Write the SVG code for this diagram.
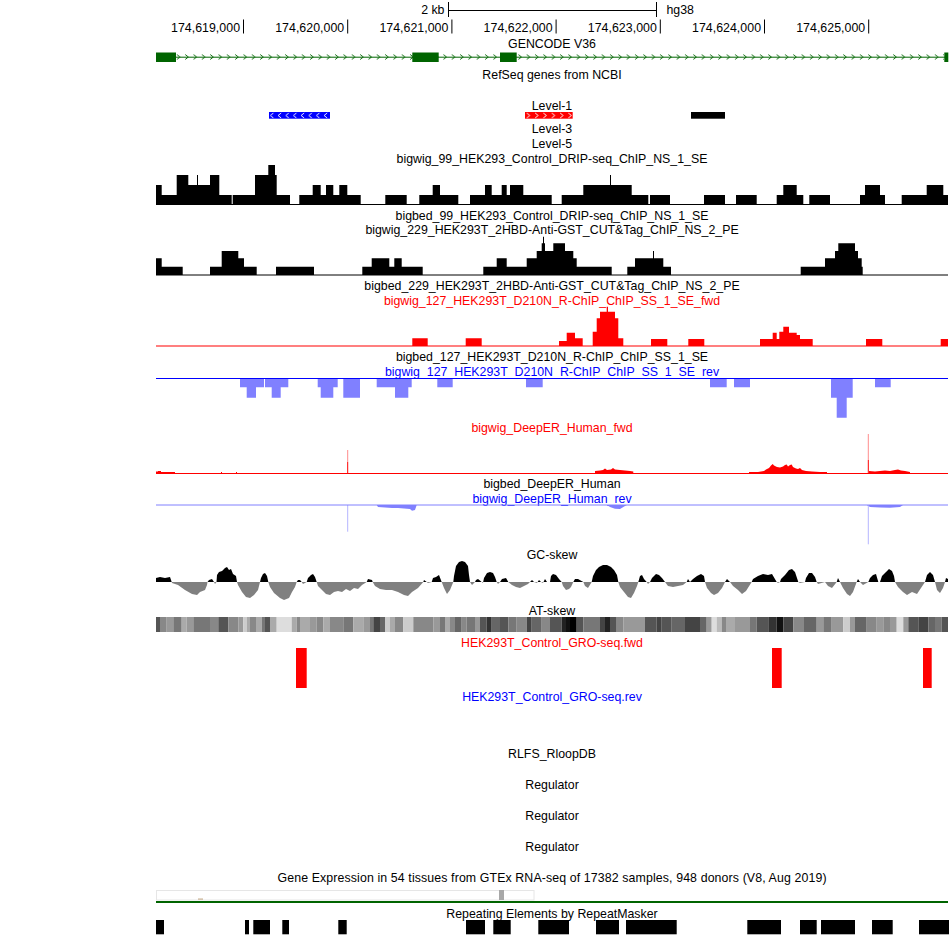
<svg xmlns="http://www.w3.org/2000/svg" width="950" height="936" viewBox="0 0 950 936">
<style>
text{font-family:"Liberation Sans",Arial,sans-serif;font-size:12.35px;fill:#000}
.c{text-anchor:middle}
.e{text-anchor:end}
.r{fill:#f00}
.b{fill:#00f}
.tick{stroke:#000;stroke-width:1}
.rs{fill:#000}
</style>
<defs>
<pattern id="chevG" patternUnits="userSpaceOnUse" x="0" y="0" width="8.33" height="936"><path d="M2,54.5L5,57L2,59.5" fill="none" stroke="#006400" stroke-width="0.9"/></pattern>
<pattern id="chevR" patternUnits="userSpaceOnUse" x="0" y="0" width="8.33" height="936"><path d="M2,113L5,115.5L2,118" fill="none" stroke="#fff" stroke-width="0.9"/></pattern>
<pattern id="chevB" patternUnits="userSpaceOnUse" x="0" y="0" width="7.67" height="936"><path d="M5,113L2,115.5L5,118" fill="none" stroke="#fff" stroke-width="0.9"/></pattern>
<clipPath id="above"><rect x="0" y="0" width="950" height="582"/></clipPath>
<clipPath id="below"><rect x="0" y="582" width="950" height="354"/></clipPath>
<path id="gc" d="M156,582 L156,578 160,577 165,578 170,577 171.7,582 172,583 178,585 185,590 192,594 197,595 200,592 205,590 207,585 207.5,582 209,580 212,579 214,582 215,584 216.5,582 217,575 219,572 222,571 225,568 227,567 229,570 231,569 233,574 236,576 237,582 238,585 242,592 246,597 250,598 254,595 258,590 260,582 261,578 263,574 265,573 267,576 268.3,582 270,587 274,593 280,598 284,600 289,598 292,592 295,587 296.7,582 298,580 300,580 301.7,582 303,584 306.7,582 308,578 311,575 313,574 315,577 316.7,582 318,586 322,590 326,594 330,595 334,592 338,591 342,592 346,589 350,591 354,588 358,589 362,585 366.7,582 368,579 372,580 372.7,582 375,586 380,589 386,590 392,590 398,592 404,595 408,596 412,592 418,588 423.3,582 424,580 426.7,582 428,583 431.7,582 433,578 436,577 439,575 441.7,582 444,588 447,594 450,590 453.3,582 454,576 456,566 459,562 462,561 465,562 468,566 469,575 470,582 472,585 475,582 476,580 478,579 481.7,582 483,583 484,578 487,573 490,572 493,573 495,577 496.7,582 498,584 500,582 502,579 506,578 508.3,582 512,585 516,587 520,588 524,586 528,584 530,582 532,580 534,582 537,583 539,580 541,582 543,583 545,579 547,582 550,582 551,576 553,574 556,575 559,579 561.7,582 563,586 566,590 569,589 571,587 573.3,582 575,579 578,579 583.3,582 585,586 588,588 591.7,582 593,576 596,570 599,567 603,565 607,565 611,567 614,570 617,575 618.3,582 620,587 624,592 628,597 631,598 634,593 637,586 638.3,582 640,576 642,575 644,579 646.7,582 648,584 650,582 652,578 656,574 659,575 662,578 665,582 668,586 673,587 678,586 683,585 686.7,582 688,579 690,582 693,579 697,576 701,574 704,576 705,582 707,588 711,593 714,595 718,593 722,588 725,582 727,579 730,582 733,586 738,590 742,594 746,591 751.7,582 753,579 758,576 763,574 768,575 772,574 776.7,582 778,583 780,582 781,579 785,575 789,570 792,569 795,572 798.3,582 800,583 805,582 806,578 809,573 812,573 815,577 816.7,582 818,584 825,582 828,586 832,588 836.7,582 838,578 840,582 843,588 847,594 850,596 853,592 856.7,582 858,579 860,582 863,585 868.3,582 870,578 873,575 876,574 878.3,582 880,582 882,576 886,572 889,569 892,571 894,576 895,582 898,587 903,592 907,595 912,592 917,594 921,588 925,582 927,575 930,572 933,575 935,582 937,590 940,593 943,588 945,582 946,578 948,579 948,582 Z"/>
</defs>
<rect width="950" height="936" fill="#fff"/>

<g id="ruler">
<text class="e" x="444.5" y="14">2 kb</text>
<line class="tick" x1="448" y1="10.5" x2="656" y2="10.5"/>
<line class="tick" x1="448.5" y1="2" x2="448.5" y2="17"/>
<line class="tick" x1="656.5" y1="2" x2="656.5" y2="17"/>
<text x="666.5" y="14">hg38</text>
<g>
<line class="tick" x1="243.5" y1="19.5" x2="243.5" y2="33.5"/>
<line class="tick" x1="347.7" y1="19.5" x2="347.7" y2="33.5"/>
<line class="tick" x1="451.9" y1="19.5" x2="451.9" y2="33.5"/>
<line class="tick" x1="556.1" y1="19.5" x2="556.1" y2="33.5"/>
<line class="tick" x1="660.3" y1="19.5" x2="660.3" y2="33.5"/>
<line class="tick" x1="764.5" y1="19.5" x2="764.5" y2="33.5"/>
<line class="tick" x1="868.7" y1="19.5" x2="868.7" y2="33.5"/>
</g>
<text class="e" x="240" y="31.5" textLength="69">174,619,000</text>
<text class="e" x="344.2" y="31.5" textLength="69">174,620,000</text>
<text class="e" x="448.4" y="31.5" textLength="69">174,621,000</text>
<text class="e" x="552.6" y="31.5" textLength="69">174,622,000</text>
<text class="e" x="656.8" y="31.5" textLength="69">174,623,000</text>
<text class="e" x="761" y="31.5" textLength="69">174,624,000</text>
<text class="e" x="865.2" y="31.5" textLength="69">174,625,000</text>
</g>

<g id="gencode">
<text class="c" x="552" y="48.3">GENCODE V36</text>
<line x1="156" y1="57.2" x2="948" y2="57.2" stroke="#006400" stroke-width="1"/>
<rect x="176" y="53" width="768" height="8.5" fill="url(#chevG)"/>
<rect x="156" y="52.5" width="20" height="9.5" fill="#006400"/>
<rect x="412.3" y="52.5" width="26.4" height="9.5" fill="#006400"/>
<rect x="500" y="52.5" width="16.7" height="9.5" fill="#006400"/>
<rect x="944.3" y="52.5" width="4" height="9.5" fill="#006400"/>
</g>

<g id="refseq">
<text class="c" x="552" y="79">RefSeq genes from NCBI</text>
</g>

<g id="levels">
<text class="c" x="552" y="110">Level-1</text>
<rect x="269" y="112" width="61" height="6.7" fill="#00f"/>
<rect x="269" y="112" width="61" height="6.7" fill="url(#chevB)"/>
<rect x="525" y="112" width="47.7" height="6.7" fill="#f00"/>
<rect x="525" y="112" width="47.7" height="6.7" fill="url(#chevR)"/>
<rect x="691" y="112" width="34" height="6.7" fill="#000"/>
<text class="c" x="552" y="132.5">Level-3</text>
<text class="c" x="552" y="147.5">Level-5</text>
</g>

<g id="track-drip99">
<text class="c" x="552" y="163">bigwig_99_HEK293_Control_DRIP-seq_ChIP_NS_1_SE</text>
<path fill="#000" d="M156,204V185H161.7V195H176.7V175H188.3V185H197V175H198V185H210V175H219.3V195H231.7V204Z
M232.7,204V195H255V175H268.3V165H275V175H276.7V195H290V204Z
M299.3,204V195H312.7V185H320.7V195H326V185H333.3V195H339.3V185H347.3V195H360.7V204Z
M385.3,204V195H406.7V204Z
M419.3,204V195H432.7V185H440V195H458.3V204Z
M470,204V195H485V185H491.7V195H501.7V185H506.7V195H510V185H523.3V195H551.7V204Z
M561.7,204V195H583.3V185H610V175H611V185H631.7V195H648.3V204Z
M650,204V195H670V204Z
M704,204V195H725V204Z
M736,204V195H756.7V204Z
M776.7,204V195H783.3V185H796.7V195H803.3V204Z
M809.3,204V195H830V204Z
M860,204V195H865V185H880V195H885V204Z
M901.7,204V195H926.7V185H943.3V195H948V204Z"/>
<line x1="156" y1="204.5" x2="948" y2="204.5" stroke="#000" stroke-width="1"/>
<text class="c" x="552" y="220">bigbed_99_HEK293_Control_DRIP-seq_ChIP_NS_1_SE</text>
</g>

<g id="track-cut229">
<text class="c" x="552" y="234.3">bigwig_229_HEK293T_2HBD-Anti-GST_CUT&amp;Tag_ChIP_NS_2_PE</text>
<path fill="#000" d="M156,275V258.3H161.7V266.7H182.7V275Z
M210,275V266.7H221.7V251H238.3V258.3H244V266.7H256.7V275Z
M276,275V266.7H314V275Z
M362.3,275V266.7H371.7V258.3H389.3V266.7H394.3V258.3H401.7V266.7H422.7V275Z
M483.3,275V266.7H496.7V258.3H506.7V266.7H526.7V258.3H536.7V251H541.7V243.3H543V236.7H544V243.3H545V251H553.3V243.3H565V251H573.3V258.3H576.7V266.7H611.7V275Z
M627.3,275V266.7H635V258.3H653V251H654V258.3H663.3V266.7H671V275Z
M800.7,275V266.7H825V258.3H835V251H838.3V243.3H855V251H858V258.3H861.7V266.7H862.7V275Z"/>
<line x1="156" y1="275" x2="948" y2="275" stroke="#000" stroke-width="1"/>
<text class="c" x="552" y="290">bigbed_229_HEK293T_2HBD-Anti-GST_CUT&amp;Tag_ChIP_NS_2_PE</text>
</g>

<g id="track-rchip-fwd">
<text class="c r" x="552" y="305">bigwig_127_HEK293T_D210N_R-ChIP_ChIP_SS_1_SE_fwd</text>
<path fill="#f00" d="M412.3,346V338.3H427.7V346Z
M465.7,346V338.3H481.7V346Z
M559,346V341H566.7V332.7H575V338.3H582.7V346Z
M592.7,346V331.7H596.7V318.3H600V311.7H606.7V306.7H608V311.7H615V318.3H618.3V338.3H623.3V346Z
M651,346V339H667.3V346Z
M688.3,346V339H704.3V346Z
M760,346V339H772.7V332.7H776.7V339H779.3V331.7H783.3V326.7H789V332.7H796.7V335H800V339H812.7V346Z
M866,346V339H882.3V346Z
M940.7,346V339H948V346Z"/>
<line x1="156" y1="346" x2="948" y2="346" stroke="#f00" stroke-width="1.2"/>
<text class="c" x="552" y="360.7">bigbed_127_HEK293T_D210N_R-ChIP_ChIP_SS_1_SE</text>
</g>

<g id="track-rchip-rev">
<text class="c b" x="552" y="376">bigwig_127_HEK293T_D210N_R-ChIP_ChIP_SS_1_SE_rev</text>
<path fill="#8080ff" d="M240,379V387.3H246.7V397.7H256V387.3H264V379Z
M265,379V387.3H271.7V397.7H280.7V387.3H288.3V379Z
M317.7,379V387.3H320.7V397.7H333.3V387.3H337.7V379Z
M343.3,379V397.7H360V379Z
M376.7,379V387.3H395V397.7H408.3V387.3H411.7V379Z
M437.3,379V387.3H452.7V379Z
M526,379V387.3H542.7V379Z
M710,379V387.3H726.7V379Z
M734,379V387.3H750V379Z
M831,379V397.7H836.7V417.7H846.7V397.7H852.7V379Z
M875,379V387.3H890.7V379Z"/>
<line x1="156" y1="378.5" x2="948" y2="378.5" stroke="#00f" stroke-width="1"/>
</g>

<g id="track-deeper-fwd">
<text class="c r" x="552" y="432">bigwig_DeepER_Human_fwd</text>
<path fill="#f00" d="M156,473V471.5H158V471H161V472H175V473Z
M221,473V472H222V473Z M236,473V472H237V473Z
M595,473L595,471L600,470.5L603,470L605,468.5L607,470L611,469.5L613,468L615,469.5L620,470L625,470.5L630,471L633.3,471.5L633.3,473Z
M749,473L749,472L758,472L764,471L766,469.5L769,468L771,465.5L772.7,464L774,465.5L777,467L780,467.5L783,466.5L785,465L786.7,464.5L788,466.5L790,465L791.7,464.5L793,467L796,468.5L798,469L800,468L802,470L806,471L812,471.5L820,472L827,472L827,473Z
M869,473L869,471L875,471.5L880,471L885,470.5L890,471L895,470L898,469.5L901,470.5L905,471L910,472L910,473Z"/>
<line x1="347.7" y1="450" x2="347.7" y2="462" stroke="#ff8c8c" stroke-width="1"/>
<line x1="347.7" y1="462" x2="347.7" y2="473" stroke="#f00" stroke-width="1"/>
<line x1="868.3" y1="434" x2="868.3" y2="460" stroke="#ff8c8c" stroke-width="1"/>
<line x1="868.3" y1="460" x2="868.3" y2="473" stroke="#f00" stroke-width="1"/>
<line x1="156" y1="473.5" x2="948" y2="473.5" stroke="#f00" stroke-width="1.2"/>
<text class="c" x="552" y="488">bigbed_DeepER_Human</text>
</g>

<g id="track-deeper-rev">
<text class="c b" x="552" y="503">bigwig_DeepER_Human_rev</text>
<path fill="#8080ff" d="M376.7,505L378,507L385,507.5L392,508L398,508L404,508.5L410,509L412,510.7L415,510L416.7,505Z
M607,505L610,507L615,508.7L620,509L625,506L627,505Z
M866.7,505L870,507L880,507.5L890,507.7L900,507L903,505Z"/>
<line x1="347.7" y1="505" x2="347.7" y2="531.7" stroke="#b4b4ff" stroke-width="1"/>
<line x1="868.3" y1="505" x2="868.3" y2="544.3" stroke="#b4b4ff" stroke-width="1"/>
<line x1="156" y1="505" x2="948" y2="505" stroke="#8080ff" stroke-width="1"/>
</g>

<g id="track-gcskew">
<text class="c" x="552" y="559">GC-skew</text>
<use href="#gc" fill="#000" clip-path="url(#above)"/>
<use href="#gc" fill="#808080" clip-path="url(#below)"/>
</g>

<g id="track-atskew">
<text class="c" x="552" y="615">AT-skew</text>
<g>
<rect x="156" y="617" width="4" height="15" fill="#555"/>
<rect x="160" y="617" width="6.7" height="15" fill="#888"/>
<rect x="166.7" y="617" width="6.6" height="15" fill="#999"/>
<rect x="173.3" y="617" width="8.4" height="15" fill="#777"/>
<rect x="181.7" y="617" width="5" height="15" fill="#aaa"/>
<rect x="186.7" y="617" width="6.6" height="15" fill="#999"/>
<rect x="193.3" y="617" width="16.7" height="15" fill="#777"/>
<rect x="210" y="617" width="8.3" height="15" fill="#888"/>
<rect x="218.3" y="617" width="10" height="15" fill="#555"/>
<rect x="228.3" y="617" width="10" height="15" fill="#888"/>
<rect x="238.3" y="617" width="5" height="15" fill="#999"/>
<rect x="243.3" y="617" width="3.4" height="15" fill="#ccc"/>
<rect x="246.7" y="617" width="3.3" height="15" fill="#aaa"/>
<rect x="250" y="617" width="6.7" height="15" fill="#888"/>
<rect x="256.7" y="617" width="5" height="15" fill="#aaa"/>
<rect x="261.7" y="617" width="3.3" height="15" fill="#777"/>
<rect x="265" y="617" width="5" height="15" fill="#555"/>
<rect x="270" y="617" width="6.7" height="15" fill="#aaa"/>
<rect x="276.7" y="617" width="15" height="15" fill="#ddd"/>
<rect x="291.7" y="617" width="5" height="15" fill="#aaa"/>
<rect x="296.7" y="617" width="3.3" height="15" fill="#888"/>
<rect x="300" y="617" width="10" height="15" fill="#aaa"/>
<rect x="310" y="617" width="6.7" height="15" fill="#999"/>
<rect x="316.7" y="617" width="6.6" height="15" fill="#888"/>
<rect x="323.3" y="617" width="6.7" height="15" fill="#aaa"/>
<rect x="330" y="617" width="13.3" height="15" fill="#888"/>
<rect x="343.3" y="617" width="10" height="15" fill="#777"/>
<rect x="353.3" y="617" width="10" height="15" fill="#aaa"/>
<rect x="363.3" y="617" width="6.7" height="15" fill="#999"/>
<rect x="370" y="617" width="3.3" height="15" fill="#777"/>
<rect x="373.3" y="617" width="6.7" height="15" fill="#444"/>
<rect x="380" y="617" width="5" height="15" fill="#666"/>
<rect x="385" y="617" width="5" height="15" fill="#ccc"/>
<rect x="390" y="617" width="5" height="15" fill="#aaa"/>
<rect x="395" y="617" width="8.3" height="15" fill="#888"/>
<rect x="403.3" y="617" width="10" height="15" fill="#ccc"/>
<rect x="413.3" y="617" width="20" height="15" fill="#888"/>
<rect x="433.3" y="617" width="6.7" height="15" fill="#999"/>
<rect x="440" y="617" width="5" height="15" fill="#777"/>
<rect x="445" y="617" width="5" height="15" fill="#aaa"/>
<rect x="450" y="617" width="5" height="15" fill="#888"/>
<rect x="455" y="617" width="6.7" height="15" fill="#666"/>
<rect x="461.7" y="617" width="5" height="15" fill="#888"/>
<rect x="466.7" y="617" width="8.3" height="15" fill="#777"/>
<rect x="475" y="617" width="5" height="15" fill="#999"/>
<rect x="480" y="617" width="6.7" height="15" fill="#555"/>
<rect x="486.7" y="617" width="5" height="15" fill="#333"/>
<rect x="491.7" y="617" width="8.3" height="15" fill="#666"/>
<rect x="500" y="617" width="8.3" height="15" fill="#555"/>
<rect x="508.3" y="617" width="8.4" height="15" fill="#777"/>
<rect x="516.7" y="617" width="10" height="15" fill="#888"/>
<rect x="526.7" y="617" width="5" height="15" fill="#444"/>
<rect x="531.7" y="617" width="10" height="15" fill="#666"/>
<rect x="541.7" y="617" width="8.3" height="15" fill="#888"/>
<rect x="550" y="617" width="11.7" height="15" fill="#555"/>
<rect x="561.7" y="617" width="4.3" height="15" fill="#222"/>
<rect x="566" y="617" width="4" height="15" fill="#111"/>
<rect x="570" y="617" width="6.7" height="15" fill="#000"/>
<rect x="576.7" y="617" width="6.6" height="15" fill="#555"/>
<rect x="583.3" y="617" width="16.7" height="15" fill="#777"/>
<rect x="600" y="617" width="5" height="15" fill="#444"/>
<rect x="605" y="617" width="5" height="15" fill="#222"/>
<rect x="610" y="617" width="6.7" height="15" fill="#555"/>
<rect x="616.7" y="617" width="6.6" height="15" fill="#888"/>
<rect x="623.3" y="617" width="21.7" height="15" fill="#999"/>
<rect x="645" y="617" width="11.7" height="15" fill="#555"/>
<rect x="656.7" y="617" width="5" height="15" fill="#444"/>
<rect x="661.7" y="617" width="10" height="15" fill="#555"/>
<rect x="671.7" y="617" width="13.3" height="15" fill="#666"/>
<rect x="685" y="617" width="15" height="15" fill="#444"/>
<rect x="700" y="617" width="6.7" height="15" fill="#666"/>
<rect x="706.7" y="617" width="5" height="15" fill="#999"/>
<rect x="711.7" y="617" width="5" height="15" fill="#ddd"/>
<rect x="716.7" y="617" width="5" height="15" fill="#bbb"/>
<rect x="721.7" y="617" width="5" height="15" fill="#888"/>
<rect x="726.7" y="617" width="8.3" height="15" fill="#aaa"/>
<rect x="735" y="617" width="15" height="15" fill="#999"/>
<rect x="750" y="617" width="6.7" height="15" fill="#777"/>
<rect x="756.7" y="617" width="11.6" height="15" fill="#555"/>
<rect x="768.3" y="617" width="8.4" height="15" fill="#333"/>
<rect x="776.7" y="617" width="6.6" height="15" fill="#111"/>
<rect x="783.3" y="617" width="10" height="15" fill="#444"/>
<rect x="793.3" y="617" width="10" height="15" fill="#888"/>
<rect x="803.3" y="617" width="13.4" height="15" fill="#666"/>
<rect x="816.7" y="617" width="6.6" height="15" fill="#999"/>
<rect x="823.3" y="617" width="8.4" height="15" fill="#777"/>
<rect x="831.7" y="617" width="11.6" height="15" fill="#999"/>
<rect x="843.3" y="617" width="6.7" height="15" fill="#ccc"/>
<rect x="850" y="617" width="5" height="15" fill="#999"/>
<rect x="855" y="617" width="11.7" height="15" fill="#666"/>
<rect x="866.7" y="617" width="10" height="15" fill="#888"/>
<rect x="876.7" y="617" width="6.6" height="15" fill="#999"/>
<rect x="883.3" y="617" width="6.7" height="15" fill="#888"/>
<rect x="890" y="617" width="6.7" height="15" fill="#999"/>
<rect x="896.7" y="617" width="6.6" height="15" fill="#ddd"/>
<rect x="903.3" y="617" width="5" height="15" fill="#999"/>
<rect x="908.3" y="617" width="10" height="15" fill="#555"/>
<rect x="918.3" y="617" width="10" height="15" fill="#444"/>
<rect x="928.3" y="617" width="6.7" height="15" fill="#666"/>
<rect x="935" y="617" width="6.7" height="15" fill="#777"/>
<rect x="941.7" y="617" width="6.3" height="15" fill="#555"/>
</g>
</g>

<g id="track-gro-fwd">
<text class="c r" x="552" y="646.5">HEK293T_Control_GRO-seq.fwd</text>
<rect x="296" y="648" width="10.7" height="40" fill="#f00"/>
<rect x="772" y="648" width="9.7" height="40" fill="#f00"/>
<rect x="923" y="648" width="8.7" height="40" fill="#f00"/>
</g>

<g id="track-gro-rev">
<text class="c b" x="552" y="701">HEK293T_Control_GRO-seq.rev</text>
</g>

<g id="track-rlfs">
<text class="c" x="552" y="757.5">RLFS_RloopDB</text>
</g>
<g id="track-reg1"><text class="c" x="552" y="788.5">Regulator</text></g>
<g id="track-reg2"><text class="c" x="552" y="819.5">Regulator</text></g>
<g id="track-reg3"><text class="c" x="552" y="850.5">Regulator</text></g>

<g id="track-gtex">
<text class="c" x="552" y="881.7" textLength="549">Gene Expression in 54 tissues from GTEx RNA-seq of 17382 samples, 948 donors (V8, Aug 2019)</text>
<rect x="156.5" y="890.5" width="377.5" height="9.5" fill="#fff" stroke="#e6e6e6" stroke-width="1"/>
<rect x="198" y="898.5" width="5" height="1.2" fill="#c8b090"/>
<rect x="499" y="890" width="5" height="10" fill="#a8a8a8"/>
<rect x="156" y="901" width="792" height="2" fill="#006400"/>
</g>

<g id="track-rmsk">
<text class="c" x="552" y="917.7">Repeating Elements by RepeatMasker</text>
<rect class="rs" x="156" y="920" width="8" height="14.3"/>
<rect class="rs" x="245" y="920" width="4" height="14.3"/>
<rect class="rs" x="253.3" y="920" width="16.7" height="14.3"/>
<rect class="rs" x="282.3" y="920" width="6.7" height="14.3"/>
<rect class="rs" x="338.3" y="920" width="8.4" height="14.3"/>
<rect class="rs" x="466" y="920" width="19" height="14.3"/>
<rect class="rs" x="493.3" y="920" width="17.4" height="14.3"/>
<rect class="rs" x="538.3" y="920" width="30.7" height="14.3"/>
<rect class="rs" x="596" y="920" width="23" height="14.3"/>
<rect class="rs" x="626" y="920" width="50.7" height="14.3"/>
<rect class="rs" x="747.3" y="920" width="33.7" height="14.3"/>
<rect class="rs" x="800" y="920" width="16.7" height="14.3"/>
<rect class="rs" x="821" y="920" width="34" height="14.3"/>
<rect class="rs" x="872" y="920" width="20.7" height="14.3"/>
<rect class="rs" x="919" y="920" width="30" height="14.3"/>
</g>
</svg>
